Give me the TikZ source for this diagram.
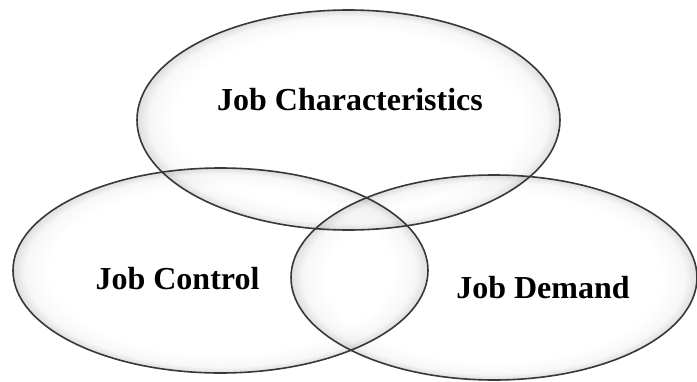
\documentclass[tikz,border=0pt]{standalone}
\usepackage{fontspec}
\setmainfont{Liberation Serif}
\pgfdeclareradialshading{rimshade}{\pgfpointorigin}{%
  color(0bp)=(white);
  color(20.5bp)=(white);
  color(23.5bp)=(black!3);
  color(25bp)=(black!13);
  color(50bp)=(black!13)}
\begin{document}
\begin{tikzpicture}[x=1pt,y=-1pt,
  setfill/.style={shading=rimshade, blend mode=multiply},
  setline/.style={draw=black!78, line width=1.6pt},
  setlabel/.style={font=\fontsize{32}{38}\selectfont\bfseries, text=black, inner sep=0pt}]
\useasboundingbox (0,0) rectangle (697,381);
% fills
\shade[setfill] (348.5,120) ellipse [x radius=211.5, y radius=110];
\shade[setfill] (220.5,270.5) ellipse [x radius=207.5, y radius=102.5];
\shade[setfill] (494,277.5) ellipse [x radius=203, y radius=102.5];
% outlines
\path[setline] (348.5,120) ellipse [x radius=211.5, y radius=110];
\path[setline] (220.5,270.5) ellipse [x radius=207.5, y radius=102.5];
\path[setline] (494,277.5) ellipse [x radius=203, y radius=102.5];
% labels
\node[setlabel] (jc) at (350,100) {Job Characteristics};
\node[setlabel] (jctl) at (177.5,279) {Job Control};
\node[setlabel] (jd) at (543,288) {Job Demand};
\end{tikzpicture}
\end{document}
